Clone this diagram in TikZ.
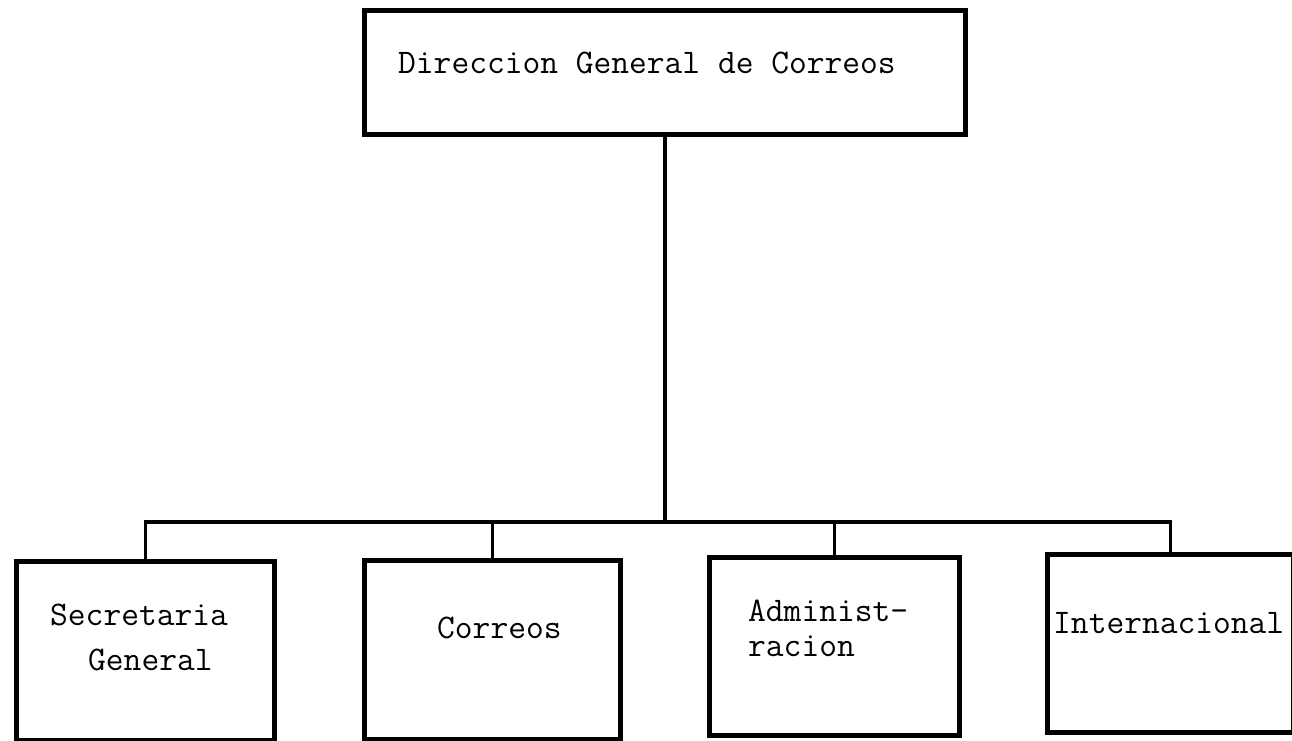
\documentclass[tikz,border=0pt]{standalone}
\begin{document}
\begin{tikzpicture}[x=1pt,y=-1pt,
  box/.style={draw=black, line width=4.5pt, rectangle, inner sep=0pt, anchor=north west},
  conn/.style={draw=black, line width=3.5pt},
  lbl/.style={anchor=base west, inner sep=0pt, font=\fontsize{34.5}{40}\selectfont\ttfamily}]
\useasboundingbox (0,0) rectangle (1292,740);
\fill[white] (0,0) rectangle (1292,740);
% boxes
\node[box, minimum width=601pt, minimum height=124pt] (top) at (362,8) {};
\node[box, minimum width=258pt, minimum height=179pt] (b1) at (14,559) {};
\node[box, minimum width=256pt, minimum height=179pt] (b2) at (362,558) {};
\node[box, minimum width=250pt, minimum height=178pt] (b3) at (707,555) {};
\node[box, minimum width=246pt, minimum height=178pt] (b4) at (1045,552) {};
% labels
\node[lbl] (ttop) at (398,73) {Direccion General de Correos};
\node[lbl] (t1a) at (50,625) {Secretaria};
\node[lbl] (t1b) at (88,670) {General};
\node[lbl] (t2) at (437,638) {Correos};
\node[lbl] (t3a) at (748,621) {Administ-};
\node[lbl] (t3b) at (748,656) {racion};
\node[lbl] (t4) at (1053,633) {Internacional};
% connectors
\coordinate (bus) at (top.south |- 0,522);
\draw[conn] (top.south) -- (bus);
\draw[conn] (b1.north) |- (bus) -| (b4.north);
\draw[conn] (b2.north) -- (b2.north |- bus);
\draw[conn] (b3.north) -- (b3.north |- bus);
\end{tikzpicture}
\end{document}
